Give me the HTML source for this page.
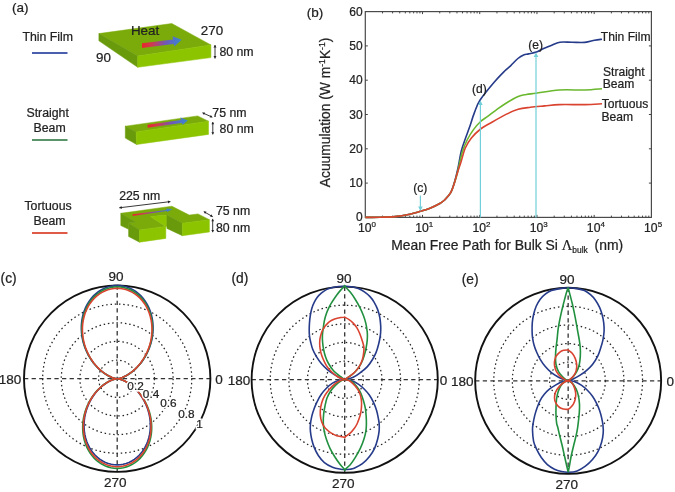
<!DOCTYPE html>
<html><head><meta charset="utf-8"><style>
html,body{margin:0;padding:0;background:#fff;}
body{width:675px;height:492px;overflow:hidden;font-family:"Liberation Sans",sans-serif;}
svg{display:block;filter:blur(0.3px);}
svg text{stroke:#222;stroke-width:0.22px;}
</style></head><body>
<svg width="675" height="492" viewBox="0 0 675 492">
<rect width="675" height="492" fill="#fff"/>
<text x="11.93" y="12.06" font-size="13.50" font-family="Liberation Sans, sans-serif" fill="#222">(a)</text>
<text x="22.39" y="41.26" font-size="12.30" font-family="Liberation Sans, sans-serif" fill="#222">Thin Film</text>
<line x1="32" y1="52.9" x2="67.5" y2="52.9" stroke="#4a5fae" stroke-width="2"/>
<text x="26.47" y="117.28" font-size="12.30" font-family="Liberation Sans, sans-serif" fill="#222">Straight</text>
<text x="33.56" y="132.41" font-size="12.30" font-family="Liberation Sans, sans-serif" fill="#222">Beam</text>
<line x1="32" y1="140" x2="67.5" y2="140" stroke="#58966a" stroke-width="2"/>
<text x="24.48" y="209.96" font-size="12.30" font-family="Liberation Sans, sans-serif" fill="#222">Tortuous</text>
<text x="33.46" y="225.00" font-size="12.30" font-family="Liberation Sans, sans-serif" fill="#222">Beam</text>
<line x1="32" y1="233.1" x2="67.5" y2="233.1" stroke="#e05a48" stroke-width="2"/>
<path d="M98.90,33.60 L171.80,23.50 L210.90,44.90 L137.70,56.10Z" fill="#7aab0a" stroke="#7aab0a" stroke-width="0.5" stroke-linejoin="round"/>
<path d="M98.90,33.60 L137.70,56.10 L137.70,67.30 L98.90,40.80Z" fill="#699a0b" stroke="#699a0b" stroke-width="0.5" stroke-linejoin="round"/>
<path d="M137.70,56.10 L210.90,44.90 L210.90,57.60 L137.70,67.30Z" fill="#8cc400" stroke="#8cc400" stroke-width="0.5" stroke-linejoin="round"/>
<defs><linearGradient id="hg" x1="0" x2="1" y1="0" y2="0">
<stop offset="0" stop-color="#e8262a"/><stop offset="0.25" stop-color="#d03a50"/><stop offset="0.6" stop-color="#7058b8"/><stop offset="0.85" stop-color="#4a78cc"/><stop offset="1" stop-color="#3a88c8"/></linearGradient></defs>
<path d="M142,43.3 L173,39.6 L172.5,36.2 L181.7,39.8 L174.5,46.3 L173.6,44 L142,47.9Z" fill="url(#hg)"/>
<text x="130.91" y="34.89" font-size="13.40" font-family="Liberation Sans, sans-serif" fill="#222">Heat</text>
<text x="200.83" y="35.14" font-size="13.40" font-family="Liberation Sans, sans-serif" fill="#222">270</text>
<text x="96.11" y="62.44" font-size="13.40" font-family="Liberation Sans, sans-serif" fill="#222">90</text>
<text x="219.38" y="55.85" font-size="12.30" font-family="Liberation Sans, sans-serif" fill="#222">80 nm</text>
<line x1="215.00" y1="45.00" x2="215.00" y2="58.50" stroke="#222" stroke-width="0.9"/><path d="M215.00,45.00 L213.50,47.40 L216.50,47.40Z" fill="#222"/><path d="M215.00,58.50 L216.50,56.10 L213.50,56.10Z" fill="#222"/>
<path d="M125.30,126.20 L197.60,115.90 L208.50,121.20 L136.10,131.90Z" fill="#7aab0a" stroke="#7aab0a" stroke-width="0.5" stroke-linejoin="round"/>
<path d="M125.30,126.20 L136.10,131.90 L136.60,144.50 L125.30,138.10Z" fill="#699a0b" stroke="#699a0b" stroke-width="0.5" stroke-linejoin="round"/>
<path d="M136.10,131.90 L208.50,121.20 L208.50,134.40 L136.60,144.50Z" fill="#8cc400" stroke="#8cc400" stroke-width="0.5" stroke-linejoin="round"/>
<path d="M147.6,124.7 L181,119.9 L180.4,117.4 L187.8,120.4 L182.7,124.8 L181.6,123.1 L147.6,127.8Z" fill="url(#hg)"/>
<line x1="202.50" y1="112.80" x2="212.30" y2="117.20" stroke="#222" stroke-width="0.9"/><path d="M202.50,112.80 L203.97,114.99 L205.12,112.44Z" fill="#222"/><path d="M212.30,117.20 L210.83,115.01 L209.68,117.56Z" fill="#222"/>
<line x1="212.80" y1="122.00" x2="212.80" y2="134.40" stroke="#222" stroke-width="0.9"/><path d="M212.80,122.00 L211.40,124.24 L214.20,124.24Z" fill="#222"/><path d="M212.80,134.40 L214.20,132.16 L211.40,132.16Z" fill="#222"/>
<text x="212.33" y="117.16" font-size="12.30" font-family="Liberation Sans, sans-serif" fill="#222">75 nm</text>
<text x="219.58" y="133.41" font-size="12.30" font-family="Liberation Sans, sans-serif" fill="#222">80 nm</text>
<path d="M120.80,213.30 L171.90,206.20 L189.30,215.10 L198.00,213.90 L209.40,219.70 L182.40,223.30 L166.90,215.10 L150.40,216.60 L165.80,226.40 L139.50,230.00 L128.60,223.10 L135.50,222.00Z" fill="#7aab0a" stroke="#7aab0a" stroke-width="0.5" stroke-linejoin="round"/>
<path d="M120.80,213.30 L135.50,222.00 L128.60,223.10 L128.60,229.30 L120.80,225.50Z" fill="#699a0b" stroke="#699a0b" stroke-width="0.5" stroke-linejoin="round"/>
<path d="M128.60,223.10 L139.50,230.00 L139.50,242.20 L128.60,236.50Z" fill="#699a0b" stroke="#699a0b" stroke-width="0.5" stroke-linejoin="round"/>
<path d="M139.50,230.00 L165.80,226.40 L165.80,238.40 L139.50,242.20Z" fill="#8cc400" stroke="#8cc400" stroke-width="0.5" stroke-linejoin="round"/>
<path d="M150.40,216.60 L166.90,215.10 L166.90,226.30 L165.80,226.40Z" fill="#8cc400" stroke="#8cc400" stroke-width="0.5" stroke-linejoin="round"/>
<path d="M166.90,215.10 L182.40,223.30 L182.40,235.70 L166.90,228.40Z" fill="#699a0b" stroke="#699a0b" stroke-width="0.5" stroke-linejoin="round"/>
<path d="M182.40,223.30 L209.40,219.70 L209.40,232.00 L182.40,235.70Z" fill="#8cc400" stroke="#8cc400" stroke-width="0.5" stroke-linejoin="round"/>
<path d="M132.5,214.2 L166.5,209.9 L166.3,208.4 L172.5,209.2 L167,211.9 L166.8,210.9 L132.7,215.9Z" fill="url(#hg)"/>
<line x1="119.30" y1="207.80" x2="170.40" y2="201.60" stroke="#222" stroke-width="0.9"/><path d="M119.30,207.80 L121.86,209.00 L121.50,206.02Z" fill="#222"/><path d="M170.40,201.60 L167.84,200.40 L168.20,203.38Z" fill="#222"/>
<line x1="203.80" y1="211.60" x2="212.70" y2="216.70" stroke="#222" stroke-width="0.9"/><path d="M203.80,211.60 L205.05,213.93 L206.44,211.50Z" fill="#222"/><path d="M212.70,216.70 L211.45,214.37 L210.06,216.80Z" fill="#222"/>
<line x1="212.70" y1="218.90" x2="212.70" y2="232.20" stroke="#222" stroke-width="0.9"/><path d="M212.70,218.90 L211.30,221.14 L214.10,221.14Z" fill="#222"/><path d="M212.70,232.20 L214.10,229.96 L211.30,229.96Z" fill="#222"/>
<text x="119.20" y="199.91" font-size="12.30" font-family="Liberation Sans, sans-serif" fill="#222">225 nm</text>
<text x="216.03" y="214.81" font-size="12.30" font-family="Liberation Sans, sans-serif" fill="#222">75 nm</text>
<text x="216.03" y="232.06" font-size="12.30" font-family="Liberation Sans, sans-serif" fill="#222">80 nm</text>
<text x="306.68" y="16.51" font-size="13.50" font-family="Liberation Sans, sans-serif" fill="#222">(b)</text>
<rect x="365.30" y="11.60" width="286.10" height="205.80" fill="none" stroke="#4a4a4a" stroke-width="1.2"/>
<path d="M382.52,217.40V215.60 M382.52,11.60V13.40 M392.60,217.40V215.60 M392.60,11.60V13.40 M399.75,217.40V215.60 M399.75,11.60V13.40 M405.30,217.40V215.60 M405.30,11.60V13.40 M409.83,217.40V215.60 M409.83,11.60V13.40 M413.66,217.40V215.60 M413.66,11.60V13.40 M416.97,217.40V215.60 M416.97,11.60V13.40 M419.90,217.40V215.60 M419.90,11.60V13.40 M422.52,217.40V214.90 M422.52,11.60V14.10 M439.74,217.40V215.60 M439.74,11.60V13.40 M449.82,217.40V215.60 M449.82,11.60V13.40 M456.97,217.40V215.60 M456.97,11.60V13.40 M462.52,217.40V215.60 M462.52,11.60V13.40 M467.05,217.40V215.60 M467.05,11.60V13.40 M470.88,217.40V215.60 M470.88,11.60V13.40 M474.19,217.40V215.60 M474.19,11.60V13.40 M477.12,217.40V215.60 M477.12,11.60V13.40 M479.74,217.40V214.90 M479.74,11.60V14.10 M496.96,217.40V215.60 M496.96,11.60V13.40 M507.04,217.40V215.60 M507.04,11.60V13.40 M514.19,217.40V215.60 M514.19,11.60V13.40 M519.74,217.40V215.60 M519.74,11.60V13.40 M524.27,217.40V215.60 M524.27,11.60V13.40 M528.10,217.40V215.60 M528.10,11.60V13.40 M531.41,217.40V215.60 M531.41,11.60V13.40 M534.34,217.40V215.60 M534.34,11.60V13.40 M536.96,217.40V214.90 M536.96,11.60V14.10 M554.18,217.40V215.60 M554.18,11.60V13.40 M564.26,217.40V215.60 M564.26,11.60V13.40 M571.41,217.40V215.60 M571.41,11.60V13.40 M576.96,217.40V215.60 M576.96,11.60V13.40 M581.49,217.40V215.60 M581.49,11.60V13.40 M585.32,217.40V215.60 M585.32,11.60V13.40 M588.63,217.40V215.60 M588.63,11.60V13.40 M591.56,217.40V215.60 M591.56,11.60V13.40 M594.18,217.40V214.90 M594.18,11.60V14.10 M611.40,217.40V215.60 M611.40,11.60V13.40 M621.48,217.40V215.60 M621.48,11.60V13.40 M628.63,217.40V215.60 M628.63,11.60V13.40 M634.18,217.40V215.60 M634.18,11.60V13.40 M638.71,217.40V215.60 M638.71,11.60V13.40 M642.54,217.40V215.60 M642.54,11.60V13.40 M645.85,217.40V215.60 M645.85,11.60V13.40 M648.78,217.40V215.60 M648.78,11.60V13.40 M365.30,183.10H367.80 M651.40,183.10H648.90 M365.30,148.80H367.80 M651.40,148.80H648.90 M365.30,114.50H367.80 M651.40,114.50H648.90 M365.30,80.20H367.80 M651.40,80.20H648.90 M365.30,45.90H367.80 M651.40,45.90H648.90" stroke="#444" stroke-width="1" fill="none"/>
<text x="362.6" y="220.60" font-size="12" text-anchor="end" font-family="Liberation Sans, sans-serif" fill="#222">0</text>
<text x="362.6" y="187.10" font-size="12" text-anchor="end" font-family="Liberation Sans, sans-serif" fill="#222">10</text>
<text x="362.6" y="152.80" font-size="12" text-anchor="end" font-family="Liberation Sans, sans-serif" fill="#222">20</text>
<text x="362.6" y="118.50" font-size="12" text-anchor="end" font-family="Liberation Sans, sans-serif" fill="#222">30</text>
<text x="362.6" y="84.20" font-size="12" text-anchor="end" font-family="Liberation Sans, sans-serif" fill="#222">40</text>
<text x="362.6" y="49.90" font-size="12" text-anchor="end" font-family="Liberation Sans, sans-serif" fill="#222">50</text>
<text x="362.6" y="15.60" font-size="12" text-anchor="end" font-family="Liberation Sans, sans-serif" fill="#222">60</text>
<text x="367.00" y="231.6" font-size="12.2" text-anchor="middle" font-family="Liberation Sans, sans-serif" fill="#222">10<tspan font-size="8" dy="-4.6">0</tspan></text>
<text x="424.22" y="231.6" font-size="12.2" text-anchor="middle" font-family="Liberation Sans, sans-serif" fill="#222">10<tspan font-size="8" dy="-4.6">1</tspan></text>
<text x="481.44" y="231.6" font-size="12.2" text-anchor="middle" font-family="Liberation Sans, sans-serif" fill="#222">10<tspan font-size="8" dy="-4.6">2</tspan></text>
<text x="538.66" y="231.6" font-size="12.2" text-anchor="middle" font-family="Liberation Sans, sans-serif" fill="#222">10<tspan font-size="8" dy="-4.6">3</tspan></text>
<text x="595.88" y="231.6" font-size="12.2" text-anchor="middle" font-family="Liberation Sans, sans-serif" fill="#222">10<tspan font-size="8" dy="-4.6">4</tspan></text>
<text x="653.10" y="231.6" font-size="12.2" text-anchor="middle" font-family="Liberation Sans, sans-serif" fill="#222">10<tspan font-size="8" dy="-4.6">5</tspan></text>
<text x="391.2" y="249.6" font-size="13.9" font-family="Liberation Sans, sans-serif" fill="#222">Mean Free Path for Bulk Si <tspan font-family="Liberation Serif, serif" font-size="14.5">&#923;</tspan><tspan font-size="8.4" dy="3.2">bulk</tspan><tspan dy="-3.2" x="594.6">(nm)</tspan></text>
<text transform="translate(330.3,112.4) rotate(-90)" font-size="13.8" text-anchor="middle" font-family="Liberation Sans, sans-serif" fill="#222">Acuumulation (W m<tspan font-size="8.6" dy="-5">-1</tspan><tspan dy="5">K</tspan><tspan font-size="8.6" dy="-5">-1</tspan><tspan dy="5">)</tspan></text>
<path d="M365.30,217.40 C367.75,217.37 375.05,217.33 380.00,217.20 C384.95,217.07 390.03,217.10 395.00,216.60 C399.97,216.10 405.57,215.08 409.80,214.20 C414.03,213.32 417.03,212.30 420.40,211.30 C423.77,210.30 426.77,209.50 430.00,208.20 C433.23,206.90 437.37,204.87 439.80,203.50 C442.23,202.13 442.78,201.80 444.60,200.00 C446.42,198.20 449.00,195.87 450.70,192.70 C452.40,189.53 453.58,185.12 454.80,181.00 C456.02,176.88 456.92,173.00 458.00,168.00 C459.08,163.00 460.08,155.87 461.30,151.00 C462.52,146.13 463.95,142.70 465.30,138.80 C466.65,134.90 467.87,132.00 469.40,127.60 C470.93,123.20 472.72,117.00 474.50,112.40 C476.28,107.80 476.90,104.95 480.10,100.00 C483.30,95.05 489.65,87.48 493.70,82.70 C497.75,77.92 501.55,74.15 504.40,71.30 C507.25,68.45 508.55,67.73 510.80,65.60 C513.05,63.47 515.77,60.28 517.90,58.50 C520.03,56.72 521.82,55.67 523.60,54.90 C525.38,54.13 526.47,54.37 528.60,53.90 C530.73,53.43 534.15,52.88 536.40,52.10 C538.65,51.32 539.73,50.27 542.10,49.20 C544.47,48.13 547.63,46.87 550.60,45.70 C553.57,44.53 556.33,42.77 559.90,42.20 C563.47,41.63 567.83,42.27 572.00,42.30 C576.17,42.33 581.13,42.73 584.90,42.40 C588.67,42.07 591.75,40.83 594.60,40.30 C597.45,39.77 600.77,39.38 602.00,39.20" stroke="#263b8a" stroke-width="1.6" fill="none" stroke-linejoin="round"/>
<path d="M365.30,217.40 C367.75,217.37 375.05,217.33 380.00,217.20 C384.95,217.07 390.03,217.10 395.00,216.60 C399.97,216.10 405.57,215.08 409.80,214.20 C414.03,213.32 417.03,212.30 420.40,211.30 C423.77,210.30 426.77,209.50 430.00,208.20 C433.23,206.90 437.37,204.87 439.80,203.50 C442.23,202.13 442.78,201.80 444.60,200.00 C446.42,198.20 449.07,195.55 450.70,192.70 C452.33,189.85 453.30,186.15 454.40,182.90 C455.50,179.65 455.98,178.35 457.30,173.20 C458.62,168.05 460.62,157.62 462.30,152.00 C463.98,146.38 465.53,143.23 467.40,139.50 C469.27,135.77 471.30,132.60 473.50,129.60 C475.70,126.60 478.23,123.70 480.60,121.50 C482.97,119.30 485.17,118.27 487.70,116.40 C490.23,114.53 492.75,112.50 495.80,110.30 C498.85,108.10 502.27,105.50 506.00,103.20 C509.73,100.90 514.82,97.95 518.20,96.50 C521.58,95.05 523.32,95.05 526.30,94.50 C529.28,93.95 530.60,93.95 536.10,93.20 C541.60,92.45 551.17,90.53 559.30,90.00 C567.43,89.47 577.78,90.20 584.90,90.00 C592.02,89.80 599.15,89.00 602.00,88.80" stroke="#6ab82e" stroke-width="1.6" fill="none" stroke-linejoin="round"/>
<path d="M365.30,217.40 C367.75,217.37 375.05,217.33 380.00,217.20 C384.95,217.07 390.03,217.10 395.00,216.60 C399.97,216.10 405.57,215.08 409.80,214.20 C414.03,213.32 417.03,212.30 420.40,211.30 C423.77,210.30 426.77,209.50 430.00,208.20 C433.23,206.90 437.37,204.87 439.80,203.50 C442.23,202.13 442.78,201.80 444.60,200.00 C446.42,198.20 449.07,195.55 450.70,192.70 C452.33,189.85 453.30,186.15 454.40,182.90 C455.50,179.65 456.20,176.68 457.30,173.20 C458.40,169.72 459.67,166.20 461.00,162.00 C462.33,157.80 463.57,152.00 465.30,148.00 C467.03,144.00 468.85,141.17 471.40,138.00 C473.95,134.83 477.55,131.42 480.60,129.00 C483.65,126.58 485.47,125.93 489.70,123.50 C493.93,121.07 501.25,116.77 506.00,114.40 C510.75,112.03 514.13,110.48 518.20,109.30 C522.27,108.12 526.00,107.87 530.40,107.30 C534.80,106.73 539.78,106.35 544.60,105.90 C549.42,105.45 552.58,104.82 559.30,104.60 C566.02,104.38 577.78,104.73 584.90,104.60 C592.02,104.47 599.15,103.93 602.00,103.80" stroke="#d9432f" stroke-width="1.6" fill="none" stroke-linejoin="round"/>
<line x1="420.40" y1="195.50" x2="420.40" y2="208.00" stroke="#72cfd9" stroke-width="1.2"/><path d="M420.40,211.00 L418.10,206.50 L422.70,206.50Z" fill="#72cfd9"/>
<line x1="480.40" y1="103.50" x2="480.40" y2="217.40" stroke="#72cfd9" stroke-width="1.2"/><path d="M480.40,100.50 L478.10,105.00 L482.70,105.00Z" fill="#72cfd9"/>
<line x1="536.00" y1="55.50" x2="536.00" y2="217.40" stroke="#72cfd9" stroke-width="1.2"/><path d="M536.00,52.50 L533.70,57.00 L538.30,57.00Z" fill="#72cfd9"/>
<text x="413.24" y="192.48" font-size="12.10" font-family="Liberation Sans, sans-serif" fill="#222">(c)</text>
<text x="472.09" y="92.98" font-size="12.10" font-family="Liberation Sans, sans-serif" fill="#222">(d)</text>
<text x="528.19" y="48.58" font-size="12.10" font-family="Liberation Sans, sans-serif" fill="#222">(e)</text>
<text x="600.80" y="40.99" font-size="12.10" font-family="Liberation Sans, sans-serif" fill="#222">Thin Film</text>
<text x="602.98" y="75.88" font-size="12.10" font-family="Liberation Sans, sans-serif" fill="#222">Straight</text>
<text x="602.77" y="88.48" font-size="12.10" font-family="Liberation Sans, sans-serif" fill="#222">Beam</text>
<text x="601.81" y="108.03" font-size="12.10" font-family="Liberation Sans, sans-serif" fill="#222">Tortuous</text>
<text x="601.47" y="120.78" font-size="12.10" font-family="Liberation Sans, sans-serif" fill="#222">Beam</text>
<circle cx="117.20" cy="378.70" r="18.64" fill="none" stroke="#222" stroke-width="1.25" stroke-dasharray="1.5 2.8"/><circle cx="117.20" cy="378.70" r="37.28" fill="none" stroke="#222" stroke-width="1.25" stroke-dasharray="1.5 2.8"/><circle cx="117.20" cy="378.70" r="55.92" fill="none" stroke="#222" stroke-width="1.25" stroke-dasharray="1.5 2.8"/><circle cx="117.20" cy="378.70" r="74.56" fill="none" stroke="#222" stroke-width="1.25" stroke-dasharray="1.5 2.8"/><path d="M24.00,378.70H210.40 M117.20,285.50V471.90" stroke="#333" stroke-width="1.3" stroke-dasharray="4.3 3.3" fill="none"/><circle cx="117.20" cy="378.70" r="93.20" fill="none" stroke="#111" stroke-width="1.9"/><text x="108.41" y="281.48" font-size="13.50" font-family="Liberation Sans, sans-serif" fill="#222">90</text><text x="104.09" y="486.98" font-size="13.50" font-family="Liberation Sans, sans-serif" fill="#222">270</text><text x="-1.32" y="384.33" font-size="13.50" font-family="Liberation Sans, sans-serif" fill="#222">180</text><text x="215.14" y="384.43" font-size="13.50" font-family="Liberation Sans, sans-serif" fill="#222">0</text><text x="0.61" y="283.25" font-size="13.80" font-family="Liberation Sans, sans-serif" fill="#222">(c)</text>
<path d="M117.20,378.70 L117.31,378.70 L117.65,378.67 L118.21,378.59 L118.99,378.45 L119.97,378.21 L121.14,377.86 L122.49,377.38 L124.01,376.75 L125.66,375.95 L127.44,374.97 L129.33,373.80 L131.29,372.43 L133.30,370.85 L135.34,369.06 L137.38,367.05 L139.40,364.83 L141.36,362.40 L143.25,359.77 L145.04,356.95 L146.70,353.95 L148.21,350.78 L149.55,347.46 L150.70,344.01 L151.64,340.45 L152.36,336.80 L152.83,333.10 L153.06,329.35 L153.02,325.59 L152.72,321.86 L152.15,318.16 L151.31,314.55 L150.20,311.03 L148.84,307.64 L147.21,304.41 L145.35,301.37 L143.25,298.53 L140.94,295.92 L138.43,293.56 L135.74,291.48 L132.90,289.68 L129.92,288.19 L126.84,287.02 L123.67,286.18 L120.45,285.67 L117.20,285.50 L113.95,285.67 L110.73,286.18 L107.56,287.02 L104.48,288.19 L101.50,289.68 L98.66,291.48 L95.97,293.56 L93.46,295.92 L91.15,298.53 L89.05,301.37 L87.19,304.41 L85.56,307.64 L84.20,311.03 L83.09,314.55 L82.25,318.16 L81.68,321.86 L81.38,325.59 L81.34,329.35 L81.57,333.10 L82.04,336.80 L82.76,340.45 L83.70,344.01 L84.85,347.46 L86.19,350.78 L87.70,353.95 L89.36,356.95 L91.15,359.77 L93.04,362.40 L95.00,364.83 L97.02,367.05 L99.06,369.06 L101.10,370.85 L103.11,372.43 L105.07,373.80 L106.96,374.97 L108.74,375.95 L110.39,376.75 L111.91,377.38 L113.26,377.86 L114.43,378.21 L115.41,378.45 L116.19,378.59 L116.75,378.67 L117.09,378.70 L117.20,378.70 L117.10,378.70 L116.78,378.73 L116.26,378.80 L115.55,378.93 L114.64,379.15 L113.55,379.47 L112.30,379.92 L110.90,380.51 L109.37,381.24 L107.72,382.15 L105.98,383.23 L104.17,384.50 L102.31,385.96 L100.42,387.62 L98.53,389.48 L96.67,391.53 L94.85,393.77 L93.10,396.21 L91.45,398.82 L89.91,401.60 L88.52,404.53 L87.27,407.60 L86.21,410.79 L85.34,414.08 L84.68,417.45 L84.24,420.88 L84.03,424.35 L84.07,427.82 L84.34,431.28 L84.87,434.70 L85.65,438.04 L86.67,441.29 L87.94,444.43 L89.44,447.42 L91.16,450.23 L93.10,452.86 L95.24,455.27 L97.56,457.45 L100.05,459.38 L102.68,461.04 L105.43,462.42 L108.29,463.50 L111.22,464.28 L114.19,464.75 L117.20,464.91 L120.21,464.75 L123.18,464.28 L126.11,463.50 L128.97,462.42 L131.72,461.04 L134.35,459.38 L136.84,457.45 L139.16,455.27 L141.30,452.86 L143.24,450.23 L144.96,447.42 L146.46,444.43 L147.73,441.29 L148.75,438.04 L149.53,434.70 L150.06,431.28 L150.33,427.82 L150.37,424.35 L150.16,420.88 L149.72,417.45 L149.06,414.08 L148.19,410.79 L147.13,407.60 L145.88,404.53 L144.49,401.60 L142.95,398.82 L141.30,396.21 L139.55,393.77 L137.73,391.53 L135.87,389.48 L133.98,387.62 L132.09,385.96 L130.23,384.50 L128.42,383.23 L126.68,382.15 L125.03,381.24 L123.50,380.51 L122.10,379.92 L120.85,379.47 L119.76,379.15 L118.85,378.93 L118.14,378.80 L117.62,378.73 L117.30,378.70 L117.20,378.70Z" stroke="#263b8a" stroke-width="1.6" fill="none"/>
<path d="M117.20,378.70 L117.31,378.70 L117.65,378.67 L118.20,378.60 L118.96,378.45 L119.93,378.22 L121.08,377.87 L122.41,377.40 L123.90,376.78 L125.54,375.99 L127.29,375.03 L129.14,373.87 L131.07,372.52 L133.06,370.97 L135.07,369.20 L137.08,367.22 L139.06,365.04 L141.00,362.65 L142.86,360.06 L144.62,357.28 L146.26,354.32 L147.75,351.20 L149.07,347.93 L150.20,344.53 L151.12,341.02 L151.83,337.43 L152.30,333.78 L152.52,330.09 L152.48,326.39 L152.19,322.71 L151.63,319.07 L150.80,315.51 L149.71,312.05 L148.36,308.71 L146.76,305.53 L144.93,302.53 L142.86,299.73 L140.58,297.16 L138.11,294.84 L135.46,292.79 L132.66,291.02 L129.73,289.55 L126.69,288.40 L123.57,287.57 L120.40,287.07 L117.20,286.90 L114.00,287.07 L110.83,287.57 L107.71,288.40 L104.67,289.55 L101.74,291.02 L98.94,292.79 L96.29,294.84 L93.82,297.16 L91.54,299.73 L89.47,302.53 L87.64,305.53 L86.04,308.71 L84.69,312.05 L83.60,315.51 L82.77,319.07 L82.21,322.71 L81.92,326.39 L81.88,330.09 L82.10,333.78 L82.57,337.43 L83.28,341.02 L84.20,344.53 L85.33,347.93 L86.65,351.20 L88.14,354.32 L89.78,357.28 L91.54,360.06 L93.40,362.65 L95.34,365.04 L97.32,367.22 L99.33,369.20 L101.34,370.97 L103.33,372.52 L105.26,373.87 L107.11,375.03 L108.86,375.99 L110.50,376.78 L111.99,377.40 L113.32,377.87 L114.47,378.22 L115.44,378.45 L116.20,378.60 L116.75,378.67 L117.09,378.70 L117.20,378.70 L117.09,378.70 L116.76,378.73 L116.23,378.80 L115.48,378.94 L114.54,379.17 L113.41,379.51 L112.11,379.97 L110.65,380.58 L109.06,381.35 L107.34,382.29 L105.53,383.41 L103.65,384.73 L101.71,386.25 L99.75,387.98 L97.79,389.91 L95.85,392.04 L93.96,394.38 L92.14,396.91 L90.42,399.62 L88.82,402.51 L87.37,405.56 L86.08,408.75 L84.97,412.07 L84.07,415.50 L83.38,419.00 L82.92,422.57 L82.71,426.17 L82.74,429.79 L83.03,433.38 L83.58,436.93 L84.39,440.42 L85.45,443.80 L86.77,447.06 L88.33,450.16 L90.12,453.10 L92.14,455.83 L94.36,458.34 L96.78,460.60 L99.36,462.61 L102.10,464.33 L104.96,465.77 L107.93,466.89 L110.98,467.70 L114.07,468.19 L117.20,468.36 L120.33,468.19 L123.42,467.70 L126.47,466.89 L129.44,465.77 L132.30,464.33 L135.04,462.61 L137.62,460.60 L140.04,458.34 L142.26,455.83 L144.28,453.10 L146.07,450.16 L147.63,447.06 L148.95,443.80 L150.01,440.42 L150.82,436.93 L151.37,433.38 L151.66,429.79 L151.69,426.17 L151.48,422.57 L151.02,419.00 L150.33,415.50 L149.43,412.07 L148.32,408.75 L147.03,405.56 L145.58,402.51 L143.98,399.62 L142.26,396.91 L140.44,394.38 L138.55,392.04 L136.61,389.91 L134.65,387.98 L132.69,386.25 L130.75,384.73 L128.87,383.41 L127.06,382.29 L125.34,381.35 L123.75,380.58 L122.29,379.97 L120.99,379.51 L119.86,379.17 L118.92,378.94 L118.17,378.80 L117.64,378.73 L117.31,378.70 L117.20,378.70Z" stroke="#21903f" stroke-width="1.6" fill="none"/>
<path d="M117.20,378.70 L117.31,378.70 L117.64,378.67 L118.18,378.60 L118.93,378.46 L119.88,378.23 L121.02,377.89 L122.33,377.42 L123.80,376.81 L125.41,376.03 L127.14,375.08 L128.96,373.95 L130.86,372.62 L132.81,371.08 L134.79,369.35 L136.77,367.40 L138.73,365.25 L140.64,362.89 L142.47,360.34 L144.20,357.60 L145.81,354.69 L147.28,351.62 L148.58,348.40 L149.70,345.05 L150.61,341.60 L151.30,338.06 L151.76,334.46 L151.98,330.83 L151.95,327.19 L151.65,323.56 L151.10,319.98 L150.29,316.47 L149.21,313.06 L147.89,309.77 L146.31,306.64 L144.50,303.69 L142.47,300.93 L140.23,298.40 L137.79,296.12 L135.18,294.09 L132.43,292.35 L129.54,290.91 L126.55,289.77 L123.48,288.96 L120.35,288.46 L117.20,288.30 L114.05,288.46 L110.92,288.96 L107.85,289.77 L104.86,290.91 L101.97,292.35 L99.22,294.09 L96.61,296.12 L94.17,298.40 L91.93,300.93 L89.90,303.69 L88.09,306.64 L86.51,309.77 L85.19,313.06 L84.11,316.47 L83.30,319.98 L82.75,323.56 L82.45,327.19 L82.42,330.83 L82.64,334.46 L83.10,338.06 L83.79,341.60 L84.70,345.05 L85.82,348.40 L87.12,351.62 L88.59,354.69 L90.20,357.60 L91.93,360.34 L93.76,362.89 L95.67,365.25 L97.63,367.40 L99.61,369.35 L101.59,371.08 L103.54,372.62 L105.44,373.95 L107.26,375.08 L108.99,376.03 L110.60,376.81 L112.07,377.42 L113.38,377.89 L114.52,378.23 L115.47,378.46 L116.22,378.60 L116.76,378.67 L117.09,378.70 L117.20,378.70 L117.09,378.70 L116.77,378.73 L116.24,378.80 L115.51,378.94 L114.59,379.16 L113.48,379.49 L112.20,379.95 L110.77,380.54 L109.21,381.30 L107.53,382.22 L105.75,383.33 L103.90,384.62 L102.00,386.11 L100.08,387.80 L98.15,389.70 L96.25,391.79 L94.39,394.08 L92.61,396.57 L90.92,399.23 L89.35,402.07 L87.93,405.06 L86.66,408.19 L85.58,411.45 L84.69,414.81 L84.01,418.25 L83.56,421.75 L83.35,425.29 L83.39,428.83 L83.67,432.36 L84.21,435.85 L85.00,439.26 L86.04,442.58 L87.34,445.78 L88.87,448.83 L90.63,451.70 L92.61,454.38 L94.79,456.85 L97.16,459.07 L99.70,461.04 L102.38,462.73 L105.19,464.14 L108.10,465.24 L111.09,466.04 L114.13,466.52 L117.20,466.68 L120.27,466.52 L123.31,466.04 L126.30,465.24 L129.21,464.14 L132.02,462.73 L134.70,461.04 L137.24,459.07 L139.61,456.85 L141.79,454.38 L143.77,451.70 L145.53,448.83 L147.06,445.78 L148.36,442.58 L149.40,439.26 L150.19,435.85 L150.73,432.36 L151.01,428.83 L151.05,425.29 L150.84,421.75 L150.39,418.25 L149.71,414.81 L148.82,411.45 L147.74,408.19 L146.47,405.06 L145.05,402.07 L143.48,399.23 L141.79,396.57 L140.01,394.08 L138.15,391.79 L136.25,389.70 L134.32,387.80 L132.40,386.11 L130.50,384.62 L128.65,383.33 L126.87,382.22 L125.19,381.30 L123.63,380.54 L122.20,379.95 L120.92,379.49 L119.81,379.16 L118.89,378.94 L118.16,378.80 L117.63,378.73 L117.31,378.70 L117.20,378.70Z" stroke="#d9432f" stroke-width="1.6" fill="none"/>
<text x="127.34" y="390.18" font-size="11.80" font-family="Liberation Sans, sans-serif" fill="#222" style="stroke:#fff;stroke-width:3px;fill:#fff">0.2</text>
<text x="127.34" y="390.18" font-size="11.80" font-family="Liberation Sans, sans-serif" fill="#222">0.2</text>
<text x="142.84" y="397.93" font-size="11.80" font-family="Liberation Sans, sans-serif" fill="#222" style="stroke:#fff;stroke-width:3px;fill:#fff">0.4</text>
<text x="142.84" y="397.93" font-size="11.80" font-family="Liberation Sans, sans-serif" fill="#222">0.4</text>
<text x="160.19" y="406.58" font-size="11.80" font-family="Liberation Sans, sans-serif" fill="#222" style="stroke:#fff;stroke-width:3px;fill:#fff">0.6</text>
<text x="160.19" y="406.58" font-size="11.80" font-family="Liberation Sans, sans-serif" fill="#222">0.6</text>
<text x="178.24" y="417.93" font-size="11.80" font-family="Liberation Sans, sans-serif" fill="#222" style="stroke:#fff;stroke-width:3px;fill:#fff">0.8</text>
<text x="178.24" y="417.93" font-size="11.80" font-family="Liberation Sans, sans-serif" fill="#222">0.8</text>
<text x="196.31" y="428.08" font-size="11.80" font-family="Liberation Sans, sans-serif" fill="#222" style="stroke:#fff;stroke-width:3px;fill:#fff">1</text>
<text x="196.31" y="428.08" font-size="11.80" font-family="Liberation Sans, sans-serif" fill="#222">1</text>
<circle cx="344.70" cy="379.70" r="18.62" fill="none" stroke="#222" stroke-width="1.25" stroke-dasharray="1.5 2.8"/><circle cx="344.70" cy="379.70" r="37.24" fill="none" stroke="#222" stroke-width="1.25" stroke-dasharray="1.5 2.8"/><circle cx="344.70" cy="379.70" r="55.86" fill="none" stroke="#222" stroke-width="1.25" stroke-dasharray="1.5 2.8"/><circle cx="344.70" cy="379.70" r="74.48" fill="none" stroke="#222" stroke-width="1.25" stroke-dasharray="1.5 2.8"/><path d="M251.60,379.70H437.80 M344.70,286.60V472.80" stroke="#333" stroke-width="1.3" stroke-dasharray="4.3 3.3" fill="none"/><circle cx="344.70" cy="379.70" r="93.10" fill="none" stroke="#111" stroke-width="1.9"/><text x="336.41" y="282.62" font-size="13.50" font-family="Liberation Sans, sans-serif" fill="#222">90</text><text x="331.94" y="488.28" font-size="13.50" font-family="Liberation Sans, sans-serif" fill="#222">270</text><text x="227.72" y="385.38" font-size="13.50" font-family="Liberation Sans, sans-serif" fill="#222">180</text><text x="439.84" y="385.23" font-size="13.50" font-family="Liberation Sans, sans-serif" fill="#222">0</text><text x="231.50" y="283.25" font-size="13.80" font-family="Liberation Sans, sans-serif" fill="#222">(d)</text>
<path d="M344.70,379.60 C344.03,379.38 342.38,379.12 340.70,378.30 C339.02,377.48 336.82,376.15 334.60,374.70 C332.38,373.25 329.62,371.47 327.40,369.60 C325.18,367.73 323.15,365.70 321.30,363.50 C319.45,361.30 317.73,358.77 316.30,356.40 C314.87,354.03 313.63,351.67 312.70,349.30 C311.77,346.93 311.23,344.40 310.70,342.20 C310.17,340.00 309.75,338.18 309.50,336.10 C309.25,334.02 309.20,331.95 309.20,329.70 C309.20,327.45 309.32,324.97 309.50,322.60 C309.68,320.23 309.92,317.87 310.30,315.50 C310.68,313.13 311.15,310.60 311.80,308.40 C312.45,306.20 313.28,304.17 314.20,302.30 C315.12,300.43 316.12,298.73 317.30,297.20 C318.48,295.67 319.78,294.37 321.30,293.10 C322.82,291.83 324.53,290.53 326.40,289.60 C328.27,288.67 330.47,288.02 332.50,287.50 C334.53,286.98 336.57,286.72 338.60,286.50 C340.63,286.28 342.55,286.15 344.70,286.20 C346.85,286.25 349.23,286.40 351.50,286.80 C353.77,287.20 356.15,287.77 358.30,288.60 C360.45,289.43 362.48,290.50 364.40,291.80 C366.32,293.10 368.17,294.65 369.80,296.40 C371.43,298.15 372.90,300.13 374.20,302.30 C375.50,304.47 376.67,306.87 377.60,309.40 C378.53,311.93 379.28,314.78 379.80,317.50 C380.32,320.22 380.55,323.45 380.70,325.70 C380.85,327.95 380.78,329.20 380.70,331.00 C380.62,332.80 380.55,334.30 380.20,336.50 C379.85,338.70 379.28,341.55 378.60,344.20 C377.92,346.85 377.12,349.85 376.10,352.40 C375.08,354.95 373.95,357.13 372.50,359.50 C371.05,361.87 369.43,364.40 367.40,366.60 C365.37,368.80 362.67,370.92 360.30,372.70 C357.93,374.48 355.80,376.15 353.20,377.30 C350.60,378.45 346.12,379.22 344.70,379.60" stroke="#263b8a" stroke-width="1.6" fill="none" stroke-linejoin="round"/>
<path d="M344.70,379.60 C343.68,379.75 340.63,379.92 338.60,380.50 C336.57,381.08 334.53,381.82 332.50,383.10 C330.47,384.38 328.27,386.33 326.40,388.20 C324.53,390.07 322.82,392.10 321.30,394.30 C319.78,396.50 318.48,399.03 317.30,401.40 C316.12,403.77 315.13,405.97 314.20,408.50 C313.27,411.03 312.33,413.90 311.70,416.60 C311.07,419.30 310.62,422.28 310.40,424.70 C310.18,427.12 310.18,428.67 310.40,431.10 C310.62,433.53 311.07,436.58 311.70,439.30 C312.33,442.02 313.10,444.70 314.20,447.40 C315.30,450.10 316.60,452.97 318.30,455.50 C320.00,458.03 322.03,460.65 324.40,462.60 C326.77,464.55 329.78,466.10 332.50,467.20 C335.22,468.30 338.67,468.82 340.70,469.20 C342.73,469.58 343.15,469.50 344.70,469.50 C346.25,469.50 348.42,469.42 350.00,469.20 C351.58,468.98 352.13,469.12 354.20,468.20 C356.27,467.28 359.85,465.65 362.40,463.70 C364.95,461.75 367.47,459.05 369.50,456.50 C371.53,453.95 373.25,451.27 374.60,448.40 C375.95,445.53 376.85,442.18 377.60,439.30 C378.35,436.42 378.83,433.65 379.10,431.10 C379.37,428.55 379.32,426.07 379.20,424.00 C379.08,421.93 378.83,420.95 378.40,418.70 C377.97,416.45 377.42,413.22 376.60,410.50 C375.78,407.78 374.68,404.93 373.50,402.40 C372.32,399.87 371.02,397.50 369.50,395.30 C367.98,393.10 366.27,391.07 364.40,389.20 C362.53,387.33 360.50,385.53 358.30,384.10 C356.10,382.67 353.47,381.35 351.20,380.60 C348.93,379.85 345.78,379.77 344.70,379.60" stroke="#263b8a" stroke-width="1.6" fill="none" stroke-linejoin="round"/>
<path d="M344.70,379.60 C344.03,379.12 342.57,378.18 340.70,376.70 C338.83,375.22 335.53,372.90 333.50,370.70 C331.47,368.50 329.85,365.88 328.50,363.50 C327.15,361.12 326.22,358.77 325.40,356.40 C324.58,354.03 324.07,351.67 323.60,349.30 C323.13,346.93 322.80,344.50 322.60,342.20 C322.40,339.90 322.32,337.67 322.40,335.50 C322.48,333.33 322.77,331.68 323.10,329.20 C323.43,326.72 323.85,323.22 324.40,320.60 C324.95,317.98 325.55,315.88 326.40,313.50 C327.25,311.12 328.48,308.33 329.50,306.30 C330.52,304.27 331.32,303.15 332.50,301.30 C333.68,299.45 335.23,297.07 336.60,295.20 C337.97,293.33 339.35,291.62 340.70,290.10 C342.05,288.58 344.03,286.77 344.70,286.10 C345.37,285.43 343.78,285.10 344.70,286.10 C345.62,287.10 348.45,289.92 350.20,292.10 C351.95,294.28 353.60,296.65 355.20,299.20 C356.80,301.75 358.43,304.68 359.80,307.40 C361.17,310.12 362.38,312.80 363.40,315.50 C364.42,318.20 365.27,320.90 365.90,323.60 C366.53,326.30 366.95,329.50 367.20,331.70 C367.45,333.90 367.45,334.88 367.40,336.80 C367.35,338.72 367.23,340.78 366.90,343.20 C366.57,345.62 366.07,348.58 365.40,351.30 C364.73,354.02 363.92,356.95 362.90,359.50 C361.88,362.05 360.75,364.40 359.30,366.60 C357.85,368.80 355.90,371.02 354.20,372.70 C352.50,374.38 350.68,375.55 349.10,376.70 C347.52,377.85 345.43,379.12 344.70,379.60" stroke="#21903f" stroke-width="1.6" fill="none" stroke-linejoin="round"/>
<path d="M344.70,379.60 C344.03,379.83 342.22,380.08 340.70,381.00 C339.18,381.92 337.30,383.40 335.60,385.10 C333.90,386.80 331.95,389.00 330.50,391.20 C329.05,393.40 327.83,395.75 326.90,398.30 C325.97,400.85 325.45,403.78 324.90,406.50 C324.35,409.22 323.87,411.90 323.60,414.60 C323.33,417.30 323.20,419.95 323.30,422.70 C323.40,425.45 323.68,428.33 324.20,431.10 C324.72,433.87 325.43,436.42 326.40,439.30 C327.37,442.18 328.63,445.53 330.00,448.40 C331.37,451.27 333.00,453.95 334.60,456.50 C336.20,459.05 337.92,461.50 339.60,463.70 C341.28,465.90 343.85,468.70 344.70,469.70 C345.55,470.70 343.78,470.53 344.70,469.70 C345.62,468.87 348.45,466.72 350.20,464.70 C351.95,462.68 353.52,460.32 355.20,457.60 C356.88,454.88 358.85,451.45 360.30,448.40 C361.75,445.35 362.97,442.18 363.90,439.30 C364.83,436.42 365.48,433.65 365.90,431.10 C366.32,428.55 366.35,426.42 366.40,424.00 C366.45,421.58 366.37,419.18 366.20,416.60 C366.03,414.02 365.87,411.20 365.40,408.50 C364.93,405.80 364.25,403.12 363.40,400.40 C362.55,397.68 361.48,394.58 360.30,392.20 C359.12,389.82 357.82,387.93 356.30,386.10 C354.78,384.27 353.13,382.28 351.20,381.20 C349.27,380.12 345.78,379.87 344.70,379.60" stroke="#21903f" stroke-width="1.6" fill="none" stroke-linejoin="round"/>
<path d="M344.70,379.60 C343.52,379.12 339.80,378.02 337.60,376.70 C335.40,375.38 333.37,373.55 331.50,371.70 C329.63,369.85 327.83,367.80 326.40,365.60 C324.97,363.40 323.83,360.70 322.90,358.50 C321.97,356.30 321.32,354.43 320.80,352.40 C320.28,350.37 319.97,348.33 319.80,346.30 C319.63,344.27 319.63,342.07 319.80,340.20 C319.97,338.33 320.33,336.80 320.80,335.10 C321.27,333.40 321.83,331.57 322.60,330.00 C323.37,328.43 324.25,327.10 325.40,325.70 C326.55,324.30 327.97,322.72 329.50,321.60 C331.03,320.48 332.73,319.68 334.60,319.00 C336.47,318.32 339.02,317.80 340.70,317.50 C342.38,317.20 344.03,317.25 344.70,317.20 C345.37,317.15 343.97,316.80 344.70,317.20 C345.43,317.60 347.68,318.62 349.10,319.60 C350.52,320.58 351.92,321.75 353.20,323.10 C354.48,324.45 355.70,325.92 356.80,327.70 C357.90,329.48 358.87,331.55 359.80,333.80 C360.73,336.05 361.72,338.95 362.40,341.20 C363.08,343.45 363.70,345.27 363.90,347.30 C364.10,349.33 363.85,351.37 363.60,353.40 C363.35,355.43 363.03,357.47 362.40,359.50 C361.77,361.53 361.00,363.57 359.80,365.60 C358.60,367.63 356.98,369.85 355.20,371.70 C353.42,373.55 350.85,375.38 349.10,376.70 C347.35,378.02 345.43,379.12 344.70,379.60" stroke="#d9432f" stroke-width="1.6" fill="none" stroke-linejoin="round"/>
<path d="M344.70,379.60 C343.85,379.83 341.28,380.25 339.60,381.00 C337.92,381.75 336.28,382.73 334.60,384.10 C332.92,385.47 331.12,387.33 329.50,389.20 C327.88,391.07 326.18,393.10 324.90,395.30 C323.62,397.50 322.57,399.87 321.80,402.40 C321.03,404.93 320.47,407.78 320.30,410.50 C320.13,413.22 320.37,416.33 320.80,418.70 C321.23,421.07 322.13,423.10 322.90,424.70 C323.67,426.30 324.13,426.97 325.40,428.30 C326.67,429.63 328.63,431.47 330.50,432.70 C332.37,433.93 334.23,434.95 336.60,435.70 C338.97,436.45 343.35,436.95 344.70,437.20 C346.05,437.45 343.78,437.87 344.70,437.20 C345.62,436.53 348.62,434.63 350.20,433.20 C351.78,431.77 353.07,430.13 354.20,428.60 C355.33,427.07 356.23,425.52 357.00,424.00 C357.77,422.48 358.20,421.23 358.80,419.50 C359.40,417.77 360.15,415.77 360.60,413.60 C361.05,411.43 361.38,408.88 361.50,406.50 C361.62,404.12 361.67,401.68 361.30,399.30 C360.93,396.92 360.32,394.40 359.30,392.20 C358.28,390.00 356.72,387.93 355.20,386.10 C353.68,384.27 351.95,382.28 350.20,381.20 C348.45,380.12 345.62,379.87 344.70,379.60" stroke="#d9432f" stroke-width="1.6" fill="none" stroke-linejoin="round"/>
<circle cx="568.15" cy="380.80" r="18.60" fill="none" stroke="#222" stroke-width="1.25" stroke-dasharray="1.5 2.8"/><circle cx="568.15" cy="380.80" r="37.20" fill="none" stroke="#222" stroke-width="1.25" stroke-dasharray="1.5 2.8"/><circle cx="568.15" cy="380.80" r="55.80" fill="none" stroke="#222" stroke-width="1.25" stroke-dasharray="1.5 2.8"/><circle cx="568.15" cy="380.80" r="74.40" fill="none" stroke="#222" stroke-width="1.25" stroke-dasharray="1.5 2.8"/><path d="M475.15,380.80H661.15 M568.15,287.80V473.80" stroke="#333" stroke-width="1.3" stroke-dasharray="4.3 3.3" fill="none"/><circle cx="568.15" cy="380.80" r="93.00" fill="none" stroke="#111" stroke-width="1.9"/><text x="559.56" y="283.68" font-size="13.50" font-family="Liberation Sans, sans-serif" fill="#222">90</text><text x="555.44" y="489.12" font-size="13.50" font-family="Liberation Sans, sans-serif" fill="#222">270</text><text x="450.88" y="386.38" font-size="13.50" font-family="Liberation Sans, sans-serif" fill="#222">180</text><text x="666.54" y="386.38" font-size="13.50" font-family="Liberation Sans, sans-serif" fill="#222">0</text><text x="461.75" y="284.30" font-size="13.80" font-family="Liberation Sans, sans-serif" fill="#222">(e)</text>
<path d="M568.15,380.70 C567.56,380.55 566.21,380.38 564.60,379.80 C562.99,379.22 560.70,378.38 558.50,377.20 C556.30,376.02 553.60,374.47 551.40,372.70 C549.20,370.93 547.17,368.82 545.30,366.60 C543.43,364.38 541.63,361.78 540.20,359.40 C538.77,357.02 537.72,354.67 536.70,352.30 C535.68,349.93 534.78,347.57 534.10,345.20 C533.42,342.83 532.93,340.38 532.60,338.10 C532.27,335.82 532.15,334.08 532.10,331.50 C532.05,328.92 532.05,325.43 532.30,322.60 C532.55,319.77 532.95,317.22 533.60,314.50 C534.25,311.78 535.10,308.85 536.20,306.30 C537.30,303.75 538.68,301.23 540.20,299.20 C541.72,297.17 543.43,295.53 545.30,294.10 C547.17,292.67 549.02,291.52 551.40,290.60 C553.78,289.68 556.80,289.07 559.60,288.60 C562.40,288.13 565.27,287.80 568.20,287.80 C571.13,287.80 574.50,288.13 577.20,288.60 C579.90,289.07 582.18,289.58 584.40,290.60 C586.62,291.62 588.65,293.10 590.50,294.70 C592.35,296.30 593.98,298.08 595.50,300.20 C597.02,302.32 598.50,305.02 599.60,307.40 C600.70,309.78 601.42,311.97 602.10,314.50 C602.78,317.03 603.37,319.85 603.70,322.60 C604.03,325.35 604.23,328.08 604.10,331.00 C603.97,333.92 603.48,337.22 602.90,340.10 C602.32,342.98 601.48,345.58 600.60,348.30 C599.72,351.02 598.95,353.70 597.60,356.40 C596.25,359.10 594.37,362.13 592.50,364.50 C590.63,366.87 588.60,368.73 586.40,370.60 C584.20,372.47 581.50,374.30 579.30,375.70 C577.10,377.10 575.06,378.17 573.20,379.00 C571.34,379.83 568.99,380.42 568.15,380.70" stroke="#263b8a" stroke-width="1.6" fill="none" stroke-linejoin="round"/>
<path d="M568.15,380.70 C567.23,380.83 564.71,380.77 562.60,381.50 C560.49,382.23 557.70,383.82 555.50,385.10 C553.30,386.38 551.27,387.68 549.40,389.20 C547.53,390.72 545.83,392.35 544.30,394.20 C542.77,396.05 541.38,398.08 540.20,400.30 C539.02,402.52 538.12,404.95 537.20,407.50 C536.28,410.05 535.38,412.90 534.70,415.60 C534.02,418.30 533.47,421.30 533.10,423.70 C532.73,426.10 532.42,427.07 532.50,430.00 C532.58,432.93 532.90,438.07 533.60,441.30 C534.30,444.53 535.42,446.70 536.70,449.40 C537.98,452.10 539.52,454.97 541.30,457.50 C543.08,460.03 545.20,462.65 547.40,464.60 C549.60,466.55 552.13,468.05 554.50,469.20 C556.87,470.35 559.32,470.98 561.60,471.50 C563.88,472.02 565.60,472.40 568.20,472.30 C570.80,472.20 574.33,471.92 577.20,470.90 C580.07,469.88 582.85,468.08 585.40,466.20 C587.95,464.32 590.38,462.07 592.50,459.60 C594.62,457.13 596.58,454.28 598.10,451.40 C599.62,448.52 600.75,445.35 601.60,442.30 C602.45,439.25 602.97,435.90 603.20,433.10 C603.43,430.30 603.27,428.08 603.00,425.50 C602.73,422.92 602.17,420.10 601.60,417.60 C601.03,415.10 600.43,412.87 599.60,410.50 C598.77,408.13 597.78,405.77 596.60,403.40 C595.42,401.03 594.03,398.50 592.50,396.30 C590.97,394.10 589.27,392.07 587.40,390.20 C585.53,388.33 583.50,386.55 581.30,385.10 C579.10,383.65 576.39,382.23 574.20,381.50 C572.01,380.77 569.16,380.83 568.15,380.70" stroke="#263b8a" stroke-width="1.6" fill="none" stroke-linejoin="round"/>
<path d="M568.15,380.70 C567.83,380.55 567.12,380.47 566.20,379.80 C565.28,379.13 563.88,378.07 562.60,376.70 C561.32,375.33 559.60,373.63 558.50,371.60 C557.40,369.57 556.50,367.03 556.00,364.50 C555.50,361.97 555.50,359.10 555.50,356.40 C555.50,353.70 555.75,351.02 556.00,348.30 C556.25,345.58 556.73,342.48 557.00,340.10 C557.27,337.72 557.40,335.90 557.60,334.00 C557.80,332.10 557.87,330.93 558.20,328.70 C558.53,326.47 559.03,323.48 559.60,320.60 C560.17,317.72 560.93,314.28 561.60,311.40 C562.27,308.52 562.92,306.00 563.60,303.30 C564.28,300.60 565.00,297.65 565.70,295.20 C566.40,292.75 567.40,289.75 567.80,288.60 C568.20,287.45 568.00,288.30 568.10,288.30 C568.20,288.30 568.07,287.45 568.40,288.60 C568.73,289.75 569.47,292.75 570.10,295.20 C570.73,297.65 571.52,300.43 572.20,303.30 C572.88,306.17 573.53,309.18 574.20,312.40 C574.87,315.62 575.58,319.27 576.20,322.60 C576.82,325.93 577.38,329.48 577.90,332.40 C578.42,335.32 578.90,337.45 579.30,340.10 C579.70,342.75 580.13,345.58 580.30,348.30 C580.47,351.02 580.47,353.70 580.30,356.40 C580.13,359.10 579.90,361.97 579.30,364.50 C578.70,367.03 577.88,369.40 576.70,371.60 C575.52,373.80 573.62,376.18 572.20,377.70 C570.78,379.22 568.83,380.20 568.15,380.70" stroke="#21903f" stroke-width="1.6" fill="none" stroke-linejoin="round"/>
<path d="M568.15,380.70 C567.48,380.92 565.36,381.10 564.10,382.00 C562.84,382.90 561.62,384.40 560.60,386.10 C559.58,387.80 558.68,390.00 558.00,392.20 C557.32,394.40 556.83,396.75 556.50,399.30 C556.17,401.85 556.08,404.78 556.00,407.50 C555.92,410.22 555.88,412.90 556.00,415.60 C556.12,418.30 556.42,421.80 556.70,423.70 C556.98,425.60 557.22,425.08 557.70,427.00 C558.18,428.92 558.87,432.15 559.60,435.20 C560.33,438.25 561.27,441.75 562.10,445.30 C562.93,448.85 563.83,453.10 564.60,456.50 C565.37,459.90 566.13,463.25 566.70,465.70 C567.27,468.15 567.75,470.20 568.00,471.20 C568.25,472.20 568.13,471.70 568.20,471.70 C568.27,471.70 568.22,472.03 568.40,471.20 C568.58,470.37 568.85,469.15 569.30,466.70 C569.75,464.25 570.37,460.07 571.10,456.50 C571.83,452.93 572.85,448.85 573.70,445.30 C574.55,441.75 575.55,438.12 576.20,435.20 C576.85,432.28 577.22,430.22 577.60,427.80 C577.98,425.38 578.22,423.25 578.50,420.70 C578.78,418.15 579.13,415.22 579.30,412.50 C579.47,409.78 579.63,407.10 579.50,404.40 C579.37,401.70 579.05,398.83 578.50,396.30 C577.95,393.77 577.25,391.40 576.20,389.20 C575.15,387.00 573.54,384.52 572.20,383.10 C570.86,381.68 568.83,381.10 568.15,380.70" stroke="#21903f" stroke-width="1.6" fill="none" stroke-linejoin="round"/>
<path d="M568.15,380.70 C567.74,380.60 566.96,380.77 565.70,380.10 C564.44,379.43 562.13,378.12 560.60,376.70 C559.07,375.28 557.48,373.28 556.50,371.60 C555.52,369.92 555.03,368.28 554.70,366.60 C554.37,364.92 554.28,363.20 554.50,361.50 C554.72,359.80 555.15,357.93 556.00,356.40 C556.85,354.87 558.33,353.32 559.60,352.30 C560.87,351.28 562.17,350.68 563.60,350.30 C565.03,349.92 567.43,350.05 568.20,350.00 C568.97,349.95 567.53,349.45 568.20,350.00 C568.87,350.55 571.03,351.90 572.20,353.30 C573.37,354.70 574.45,356.53 575.20,358.40 C575.95,360.27 576.53,362.47 576.70,364.50 C576.87,366.53 576.70,368.73 576.20,370.60 C575.70,372.47 574.72,374.25 573.70,375.70 C572.68,377.15 571.03,378.47 570.10,379.30 C569.17,380.13 568.48,380.47 568.15,380.70" stroke="#d9432f" stroke-width="1.6" fill="none" stroke-linejoin="round"/>
<path d="M568.15,380.70 C567.56,380.92 566.02,381.10 564.60,382.00 C563.18,382.90 561.12,384.40 559.60,386.10 C558.08,387.80 556.35,390.17 555.50,392.20 C554.65,394.23 554.42,396.43 554.50,398.30 C554.58,400.17 555.15,401.87 556.00,403.40 C556.85,404.93 558.33,406.57 559.60,407.50 C560.87,408.43 562.23,408.68 563.60,409.00 C564.97,409.32 567.10,409.33 567.80,409.40 C568.50,409.47 567.42,409.63 567.80,409.40 C568.18,409.17 569.20,408.83 570.10,408.00 C571.00,407.17 572.35,405.85 573.20,404.40 C574.05,402.95 574.78,401.17 575.20,399.30 C575.62,397.43 575.87,395.23 575.70,393.20 C575.53,391.17 574.97,388.97 574.20,387.10 C573.43,385.23 572.11,383.07 571.10,382.00 C570.09,380.93 568.64,380.92 568.15,380.70" stroke="#d9432f" stroke-width="1.6" fill="none" stroke-linejoin="round"/>
</svg>
</body></html>
